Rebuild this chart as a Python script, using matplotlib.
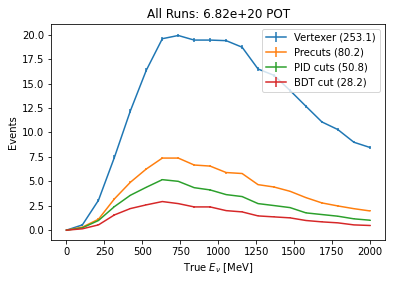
import numpy as np
import matplotlib
matplotlib.use("Agg")
import matplotlib.pyplot as plt

energy = [0, 105, 211, 316, 421, 526, 632, 737, 842, 947,
          1053, 1158, 1263, 1368, 1474, 1579, 1684, 1789, 1895, 2000]

vertexer = [0.0, 0.54, 3.06, 7.45, 12.2, 16.36, 19.6, 19.93, 19.46, 19.46,
            19.4, 18.73, 16.5, 15.85, 14.3, 12.68, 11.08, 10.3, 9.0, 8.47]
vertexer_err = [0.0, 0.08, 0.15, 0.2, 0.2, 0.2, 0.2, 0.2, 0.18, 0.18,
                0.18, 0.18, 0.16, 0.16, 0.15, 0.14, 0.13, 0.13, 0.12, 0.12]

precuts = [0.0, 0.31, 1.12, 3.2, 4.9, 6.26, 7.38, 7.38, 6.67, 6.56,
           5.9, 5.8, 4.66, 4.42, 3.98, 3.33, 2.79, 2.48, 2.2, 1.97]
precuts_err = [0.0, 0.05, 0.08, 0.1, 0.1, 0.1, 0.1, 0.1, 0.1, 0.1,
               0.1, 0.1, 0.08, 0.08, 0.08, 0.07, 0.06, 0.06, 0.06, 0.05]

pid = [0.0, 0.24, 0.99, 2.41, 3.57, 4.39, 5.17, 5.0, 4.35, 4.12,
       3.64, 3.44, 2.72, 2.52, 2.31, 1.77, 1.6, 1.43, 1.16, 1.02]
pid_err = [0.0, 0.04, 0.07, 0.08, 0.08, 0.08, 0.08, 0.08, 0.08, 0.08,
           0.07, 0.07, 0.06, 0.06, 0.06, 0.05, 0.05, 0.05, 0.04, 0.04]

bdt = [0.0, 0.14, 0.54, 1.56, 2.21, 2.59, 2.93, 2.72, 2.38, 2.38,
       2.0, 1.87, 1.46, 1.36, 1.26, 0.99, 0.85, 0.75, 0.54, 0.48]
bdt_err = [0.0, 0.03, 0.05, 0.06, 0.06, 0.06, 0.06, 0.06, 0.06, 0.06,
           0.05, 0.05, 0.05, 0.05, 0.04, 0.04, 0.04, 0.03, 0.03, 0.03]

labels = ["Vertexer (253.1)", "Precuts (80.2)", "PID cuts (50.8)", "BDT cut (28.2)"]
title = "All Runs: 6.82e+20 POT"

fig = plt.figure(figsize=(396 / 72, 282 / 72), dpi=72)
ax = fig.add_axes([51.3 / 396, 42 / 282, (385 - 51.3) / 396, (240 - 23.7) / 282])

for y, e, lab in [(vertexer, vertexer_err, labels[0]),
                  (precuts, precuts_err, labels[1]),
                  (pid, pid_err, labels[2]),
                  (bdt, bdt_err, labels[3])]:
    ax.errorbar(energy, y, yerr=e, label=lab, lw=1.5)

ax.set_title(title, fontsize=12)
ax.set_xlabel(r"True $E_\nu$ [MeV]", fontsize=10)
ax.set_ylabel("Events", fontsize=10)
ax.tick_params(labelsize=10)
ax.legend(loc="upper right", fontsize=10)

fig.savefig("out.png", dpi=72)
